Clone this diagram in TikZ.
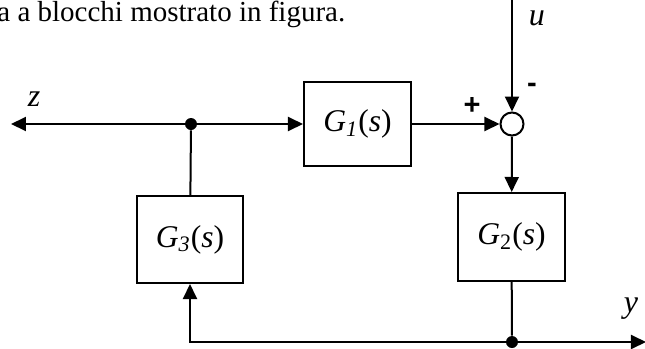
\documentclass[tikz,border=0pt]{standalone}
\usepackage{fontspec}
\setmainfont{Liberation Serif}
\newfontfamily\segnofont{Liberation Sans}
\usepackage{tikz}
\usetikzlibrary{calc, positioning, arrows.meta}

\begin{document}
\begin{tikzpicture}[
  x=0.5pt, y=-0.5pt,
  every node/.style={font=\fontsize{15.8}{18}\selectfont},
  blocco/.style={
    rectangle, draw, line width=1pt,
    minimum width=53.5pt, minimum height=42pt,
    inner sep=0pt, align=center
  },
  somma/.style={
    circle, draw, line width=1pt,
    minimum size=11.5pt, inner sep=0pt
  },
  punto/.style={circle, fill, minimum size=6pt, inner sep=0pt},
  freccia/.style={-{Triangle[length=7.5pt, width=7pt]}, line width=1pt},
  linea/.style={line width=1pt},
  segno/.style={font=\segnofont\bfseries\fontsize{14.5}{16}\selectfont},
  etich/.style={font=\itshape\fontsize{16}{18}\selectfont}
]
  \useasboundingbox (0,0) rectangle (645,349);

  % --- Testo in alto ---
  \node[anchor=base west, inner sep=0pt, font=\fontsize{14.5}{17}\selectfont]
    (testo) at (-3,21) {a a blocchi mostrato in figura.};

  % --- Blocchi ---
  \node[blocco] (G1) at (357.5,124) {\textit{G\textsubscript{1}}(\textit{s})};
  \node[blocco, minimum height=44pt] (G2) at (511.5,237) {\textit{G}\textsubscript{2}(\textit{s})};
  \node[blocco, minimum width=53pt, minimum height=43.5pt] (G3) at (190,239.5) {\textit{G\textsubscript{3}}(\textit{s})};

  % --- Nodo sommatore e punti di diramazione ---
  \node[somma] (sum) at (512,124) {};
  \node[punto] (ramo1) at (191,124) {};
  \node[punto] (ramo2) at (512,342) {};

  % --- Ingressi e uscite ---
  \coordinate (zout) at (11,124);
  \coordinate (uin)  at (512,0);
  \coordinate (yout) at (646,342);

  % --- Etichette ---
  \node[etich] (zlab) at (34,99)  {z};
  \node[etich] (ulab) at (537,18) {u};
  \node[etich] (ylab) at (631,309) {y};
  \node[segno] (piu)   at (472,106) {+};
  \node[segno] (meno)  at (532,88)  {-};

  % --- Frecce ---
  \draw[freccia] (ramo1) -- (zout);
  \draw[freccia] (ramo1) -- (G1);
  \draw[freccia] (G1) -- (sum);
  \draw[freccia] (uin) -- (sum);
  \draw[freccia] (sum) -- (G2);
  \draw[linea] (G3) -- (ramo1);
  \draw[linea] (G2) -- (ramo2);
  \draw[freccia] (ramo2) -- (yout);
  \draw[freccia] (ramo2) -| (G3);
\end{tikzpicture}
\end{document}
